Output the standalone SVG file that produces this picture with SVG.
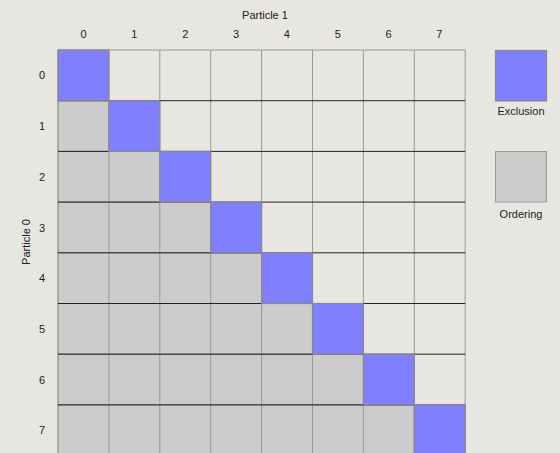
<svg xmlns="http://www.w3.org/2000/svg" width="560" height="453" viewBox="0 0 560 453">
<style>
text{font-family:"Liberation Sans",Arial,sans-serif;font-size:11px;fill:#222;text-anchor:middle}
.g{fill:#cccccc;stroke:#999;stroke-width:1}
.b{fill:#8080ff;stroke:#888;stroke-width:1.2}
.h{stroke:#222;stroke-width:1}
.v{stroke:#999;stroke-width:1}
</style>
<rect width="560" height="453" fill="#e8e6e1"/>
<text x="265" y="19">Particle 1</text>
<g id="collabels">
<text x="83.5" y="38">0</text><text x="134.3" y="38">1</text><text x="185.2" y="38">2</text><text x="236" y="38">3</text><text x="286.9" y="38">4</text><text x="337.7" y="38">5</text><text x="388.6" y="38">6</text><text x="439.4" y="38">7</text>
</g>
<text transform="translate(30,242) rotate(-90)">Particle 0</text>
<g id="rowlabels">
<text x="42" y="79">0</text><text x="42" y="130">1</text><text x="42" y="181">2</text><text x="42" y="232">3</text><text x="42" y="282">4</text><text x="42" y="333">5</text><text x="42" y="384">6</text><text x="42" y="434">7</text>
</g>
<g id="ordering-cells">
<rect class="g" x="58" y="100.7" width="50.9" height="50.7"/>
<rect class="g" x="58" y="151.4" width="101.8" height="50.7"/>
<rect class="g" x="58" y="202.1" width="152.7" height="50.7"/>
<rect class="g" x="58" y="252.8" width="203.6" height="50.7"/>
<rect class="g" x="58" y="303.5" width="254.5" height="50.7"/>
<rect class="g" x="58" y="354.2" width="305.4" height="50.7"/>
<rect class="g" x="58" y="404.9" width="356.3" height="50.7"/>
</g>
<g id="grid">
<line class="v" x1="58" y1="50" x2="58" y2="456"/>
<line class="v" x1="108.9" y1="50" x2="108.9" y2="456"/>
<line class="v" x1="159.8" y1="50" x2="159.8" y2="456"/>
<line class="v" x1="210.7" y1="50" x2="210.7" y2="456"/>
<line class="v" x1="261.6" y1="50" x2="261.6" y2="456"/>
<line class="v" x1="312.5" y1="50" x2="312.5" y2="456"/>
<line class="v" x1="363.4" y1="50" x2="363.4" y2="456"/>
<line class="v" x1="414.3" y1="50" x2="414.3" y2="456"/>
<line class="v" x1="465.2" y1="50" x2="465.2" y2="456"/>
<line class="v" x1="58" y1="50" x2="465.2" y2="50"/>
<line class="h" x1="58" y1="100.7" x2="465.2" y2="100.7"/>
<line class="h" x1="58" y1="151.4" x2="465.2" y2="151.4"/>
<line class="h" x1="58" y1="202.1" x2="465.2" y2="202.1"/>
<line class="h" x1="58" y1="252.8" x2="465.2" y2="252.8"/>
<line class="h" x1="58" y1="303.5" x2="465.2" y2="303.5"/>
<line class="h" x1="58" y1="354.2" x2="465.2" y2="354.2"/>
<line class="h" x1="58" y1="404.9" x2="465.2" y2="404.9"/>
</g>
<g id="exclusion-cells">
<rect class="b" x="58" y="50" width="50.9" height="50.7"/>
<rect class="b" x="108.9" y="100.7" width="50.9" height="50.7"/>
<rect class="b" x="159.8" y="151.4" width="50.9" height="50.7"/>
<rect class="b" x="210.7" y="202.1" width="50.9" height="50.7"/>
<rect class="b" x="261.6" y="252.8" width="50.9" height="50.7"/>
<rect class="b" x="312.5" y="303.5" width="50.9" height="50.7"/>
<rect class="b" x="363.4" y="354.2" width="50.9" height="50.7"/>
<rect class="b" x="414.3" y="404.9" width="50.9" height="50.7"/>
</g>
<g id="legend-exclusion">
<rect class="b" x="495.5" y="50.5" width="51" height="50.5"/>
<text x="521" y="115">Exclusion</text>
</g>
<g id="legend-ordering">
<rect class="g" x="495.5" y="151.5" width="51" height="50.5"/>
<text x="521" y="218">Ordering</text>
</g>
</svg>
